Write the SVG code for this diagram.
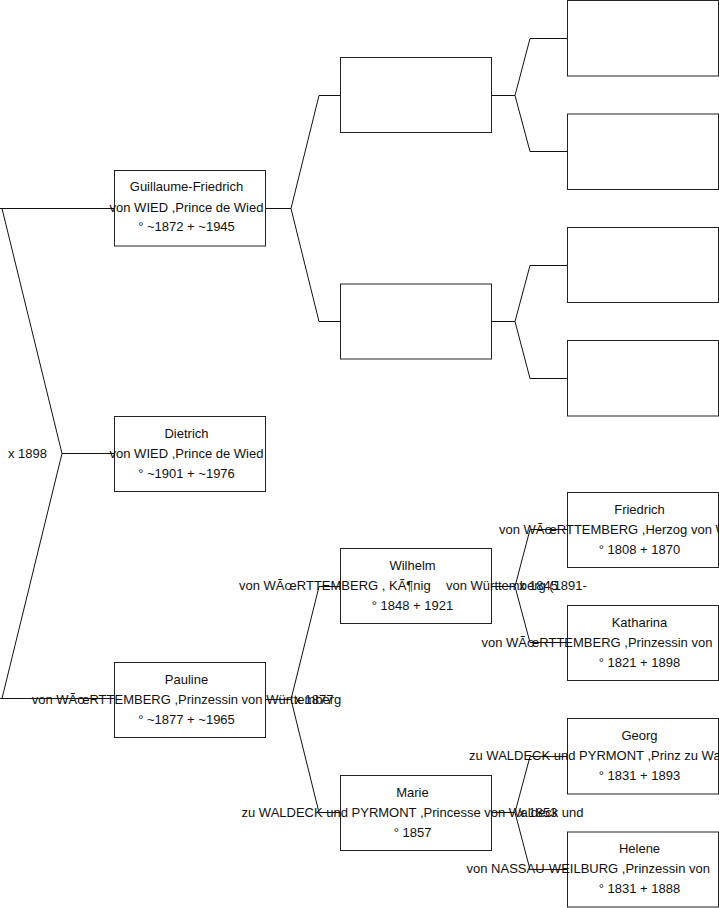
<svg xmlns="http://www.w3.org/2000/svg" width="719" height="908" viewBox="0 0 719 908">
<style>
.box{fill:#fff;stroke:#222;stroke-width:1}
.ln{fill:none;stroke:#111;stroke-width:1}
text{font-family:"Liberation Sans",Arial,sans-serif;font-size:13px;fill:#111}
.c{text-anchor:middle}
.pre{white-space:pre}
</style>
<rect width="719" height="908" fill="#fff"/>
<g id="boxes">
<g id="guillaume"><rect class="box" x="114.5" y="170.5" width="151" height="75.5"/></g>
<g id="dietrich"><rect class="box" x="114.5" y="416.5" width="151" height="75"/></g>
<g id="pauline"><rect class="box" x="114.5" y="662.5" width="151" height="75"/></g>
<g id="p2a"><rect class="box" x="340.5" y="57.5" width="151" height="75"/></g>
<g id="p2b"><rect class="box" x="340.5" y="284" width="151" height="75"/></g>
<g id="wilhelm"><rect class="box" x="340.5" y="548.5" width="151" height="75"/></g>
<g id="marie"><rect class="box" x="340.5" y="775.5" width="151" height="75"/></g>
<g id="p3a"><rect class="box" x="567.5" y="0.5" width="151" height="75.5"/></g>
<g id="p3b"><rect class="box" x="567.5" y="114" width="151" height="75.5"/></g>
<g id="p3c"><rect class="box" x="567.5" y="227.5" width="151" height="75"/></g>
<g id="p3d"><rect class="box" x="567.5" y="340.5" width="151" height="75.5"/></g>
<g id="friedrich"><rect class="box" x="567.5" y="492.5" width="151" height="75"/></g>
<g id="katharina"><rect class="box" x="567.5" y="605.5" width="151" height="75"/></g>
<g id="georg"><rect class="box" x="567.5" y="718.5" width="151" height="75.5"/></g>
<g id="helene"><rect class="box" x="567.5" y="832" width="151" height="75"/></g>
</g>
<g id="connectors" class="ln">
<path class="ln" d="M0,208.5 H114.5 M2,208.5 L62,453.5 H114.5 M62,453.5 L2,698.5 M0,698.5 H114.5"/>
<path class="ln" d="M265.5,208.5 H291 L319,95.5 H340.5 M291,208.5 L319,321.5 H340.5"/>
<path class="ln" d="M265.5,699.5 H291 L319,586.5 H340.5 M291,699.5 L319,812.5 H340.5"/>
<path class="ln" d="M491.5,95.5 H515 L530,38.5 H567.5 M515,95.5 L530,151.5 H567.5"/>
<path class="ln" d="M491.5,321.5 H515 L530,265.5 H567.5 M515,321.5 L530,378.5 H567.5"/>
<path class="ln" d="M491.5,586.5 H515 L530,529.5 H567.5 M515,586.5 L530,642.5 H567.5"/>
<path class="ln" d="M491.5,812.5 H515 L530,756.5 H567.5 M515,812.5 L530,869.5 H567.5"/>
</g>
<g id="texts">
<text class="c" x="186.5" y="191">Guillaume-Friedrich</text>
<text class="c" x="186.5" y="211.5">von WIED ,Prince de Wied</text>
<text class="c" x="186.5" y="231">° ~1872 + ~1945</text>

<text class="c" x="186.5" y="437.5">Dietrich</text>
<text class="c" x="186.5" y="457.5">von WIED ,Prince de Wied</text>
<text class="c" x="186.5" y="477.5">° ~1901 + ~1976</text>

<text class="c" x="186.5" y="683.5">Pauline</text>
<text class="c" x="186.5" y="703.5">von WÃœRTTEMBERG ,Prinzessin von Württemberg</text>
<text class="c" x="186.5" y="723.5">° ~1877 + ~1965</text>

<text class="c" x="412.5" y="569.5">Wilhelm</text>
<text class="pre" x="239" y="589.5">von WÃœRTTEMBERG , KÃ¶nig <tspan x="446">von Württemberg (1891-</tspan></text>
<text class="c" x="412.5" y="609.5">° 1848 + 1921</text>

<text class="c" x="412.5" y="796.5">Marie</text>
<text class="c" x="412.5" y="816.5">zu WALDECK und PYRMONT ,Princesse von Waldeck und</text>
<text class="c" x="412.5" y="836.5">° 1857</text>

<text class="c" x="639.5" y="513.5">Friedrich</text>
<text x="499" y="533.5">von WÃœRTTEMBERG ,Herzog von W</text>
<text class="c" x="639.5" y="553.5">° 1808 + 1870</text>

<text class="c" x="639.5" y="626.5">Katharina</text>
<text x="481.5" y="646.5">von WÃœRTTEMBERG ,Prinzessin von</text>
<text class="c" x="639.5" y="666.5">° 1821 + 1898</text>

<text class="c" x="639.5" y="739.5">Georg</text>
<text x="469" y="759.5">zu WALDECK und PYRMONT ,Prinz zu Wa</text>
<text class="c" x="639.5" y="779.5">° 1831 + 1893</text>

<text class="c" x="639.5" y="853">Helene</text>
<text x="466.5" y="873">von NASSAU-WEILBURG ,Prinzessin von</text>
<text class="c" x="639.5" y="893">° 1831 + 1888</text>
</g>
<g id="labels">
<text x="8" y="457.5">x 1898</text>
<text x="294.5" y="703.5">x 1877</text>
<text x="519" y="590">x 1845</text>
<text x="518.5" y="816.5">x 1853</text>
</g>
</svg>
